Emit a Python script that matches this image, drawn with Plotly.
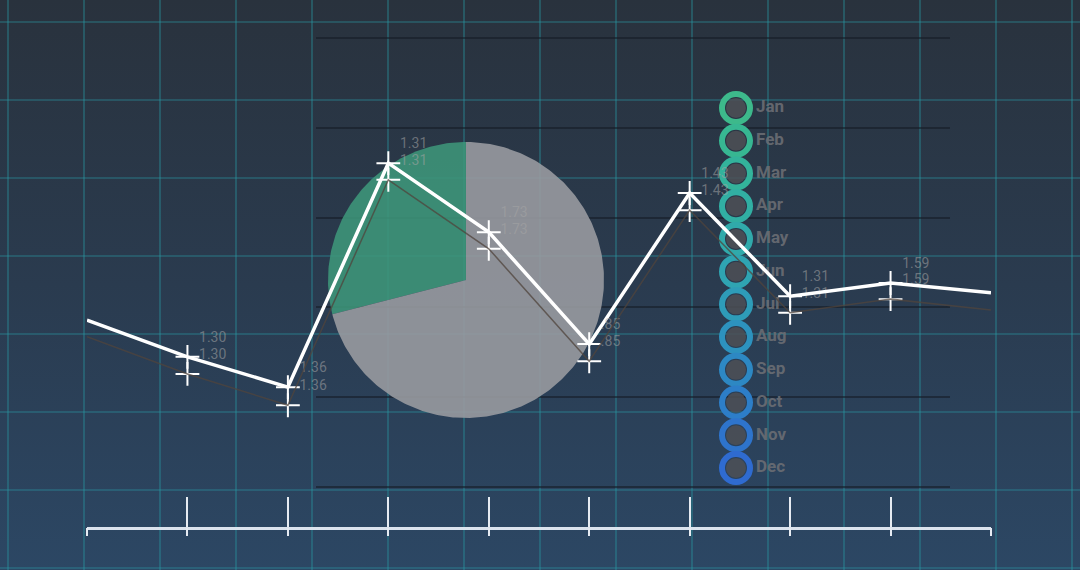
import math
import plotly.graph_objects as go

# ---------------- data ----------------
points = list(range(10))
main_values = [4.23, 3.48, 2.86, 7.44, 6.03, 3.74, 6.83, 4.72, 4.99, 4.79]
shadow_values = [3.89, 3.13, 2.49, 7.10, 5.69, 3.39, 6.48, 4.38, 4.66, 4.44]
point_labels = ["1.30", "1.36", "1.31", "1.73", ".85", "1.43", "1.31", "1.59"]
pie_labels = ["Green", "Gray"]
pie_shares = [29, 71]
months = ["Jan", "Feb", "Mar", "Apr", "May", "Jun",
          "Jul", "Aug", "Sep", "Oct", "Nov", "Dec"]

# ---------------- styles ----------------
W, H = 1080, 570
ring_colors = ["#3db98b", "#37b792", "#33b39b", "#31afa3", "#30aaab", "#2fa4b2",
               "#2e9cb8", "#2d92be", "#2d88c3", "#2d7ec8", "#2e74cc", "#2f6bd0"]
pie_colors = ["rgba(62,150,122,0.88)", "rgba(152,154,160,0.9)"]
label_color = "rgba(165,165,165,0.55)"

fig = go.Figure()

def px_dom(a, b, total):
    return [a / total, b / total]

# 1) background gradient (x/y, pixel axes)
fig.add_trace(go.Scatter(
    x=[0, W, W, 0, 0], y=[0, 0, H, H, 0], mode="lines", fill="toself",
    line=dict(width=0), hoverinfo="skip", showlegend=False,
    fillgradient=dict(type="vertical",
                      colorscale=[[0, "#2c4764"], [0.5, "#2a3b4f"], [1, "#29323d"]]),
    xaxis="x", yaxis="y"))

# 2) teal grid (x2/y2)
fig.add_trace(go.Scatter(x=[], y=[], xaxis="x2", yaxis="y2", showlegend=False))

# 3) dark horizontal guide lines (x3/y3)
fig.add_trace(go.Scatter(x=[], y=[], xaxis="x3", yaxis="y3", showlegend=False))

# 4) pie drawn from its shares on a square unit axis (x4/y4)
start = 90.0
for lab, share, col in zip(pie_labels, pie_shares, pie_colors):
    span = 360.0 * share / sum(pie_shares)
    n = max(8, int(span))
    xs, ys = [0.0], [0.0]
    for k in range(n + 1):
        a = math.radians(start + span * k / n)
        xs.append(math.cos(a))
        ys.append(math.sin(a))
    xs.append(0.0); ys.append(0.0)
    fig.add_trace(go.Scatter(x=xs, y=ys, mode="lines", fill="toself",
                             fillcolor=col, line=dict(width=0), name=lab,
                             hoverinfo="name", showlegend=False,
                             xaxis="x4", yaxis="y4"))
    start += span

# 5) month rings (x5/y5)
midx = list(range(len(months)))
fig.add_trace(go.Scatter(
    x=[0] * len(months), y=midx, mode="markers", xaxis="x5", yaxis="y5",
    marker=dict(symbol="circle", size=20, color="rgba(78,80,86,0.85)"),
    hoverinfo="skip", showlegend=False, cliponaxis=False))
fig.add_trace(go.Scatter(
    x=[0] * len(months), y=midx, mode="markers", xaxis="x5", yaxis="y5",
    marker=dict(symbol="circle-open", size=28, color=ring_colors,
                line=dict(width=6, color=ring_colors)),
    hoverinfo="skip", showlegend=False, cliponaxis=False))
fig.add_trace(go.Scatter(
    x=[1] * len(months), y=midx, mode="text", text=months,
    textposition="middle right", xaxis="x5", yaxis="y5",
    textfont=dict(family="Roboto", size=17, color="rgba(108,110,116,0.9)",
                  weight="bold"),
    hoverinfo="skip", showlegend=False, cliponaxis=False))

# 6) line chart (x6/y6), with overlay x7 for lower tick stubs
inner = points[1:-1]
fig.add_trace(go.Scatter(
    x=points, y=shadow_values, mode="lines", xaxis="x7", yaxis="y6",
    line=dict(color="rgba(80,68,60,0.75)", width=1.5),
    hoverinfo="skip", showlegend=False))
fig.add_trace(go.Scatter(
    x=inner, y=shadow_values[1:-1], mode="markers+text", xaxis="x6", yaxis="y6",
    text=point_labels, textposition="top right",
    textfont=dict(family="Roboto", size=14, color=label_color),
    marker=dict(symbol="cross-thin", size=17, line=dict(width=2, color="white")),
    hoverinfo="skip", showlegend=False, cliponaxis=False))
fig.add_trace(go.Scatter(
    x=points, y=main_values, mode="lines", xaxis="x6", yaxis="y6",
    line=dict(color="white", width=3.5), showlegend=False))
fig.add_trace(go.Scatter(
    x=inner, y=main_values[1:-1], mode="markers+text", xaxis="x6", yaxis="y6",
    text=point_labels, textposition="top right",
    textfont=dict(family="Roboto", size=14, color=label_color),
    marker=dict(symbol="cross-thin", size=17, line=dict(width=2, color="white")),
    hoverinfo="skip", showlegend=False, cliponaxis=False))

hidden = dict(showgrid=False, zeroline=False, showticklabels=False,
              showline=False, ticks="", fixedrange=True)

fig.update_layout(
    width=W, height=H,
    margin=dict(l=0, r=0, t=0, b=0),
    paper_bgcolor="#2a3a4e", plot_bgcolor="rgba(0,0,0,0)",
    showlegend=False,
    xaxis=dict(domain=[0, 1], range=[0, W], **hidden),
    yaxis=dict(domain=[0, 1], range=[H, 0], **hidden),
    xaxis2=dict(domain=[0, 1], range=[0, W], anchor="y2",
                **{**hidden, "showgrid": True}, tick0=8, dtick=76,
                gridcolor="rgba(40,150,160,0.38)", gridwidth=2),
    yaxis2=dict(domain=[0, 1], range=[H, 0], anchor="x2",
                **{**hidden, "showgrid": True}, tick0=22, dtick=78,
                gridcolor="rgba(40,150,160,0.34)", gridwidth=2),
    xaxis3=dict(domain=px_dom(316, 950, W), range=[0, 1], anchor="y3", **hidden),
    yaxis3=dict(domain=[(H - 496) / H, (H - 29) / H], range=[-0.1, 5.1],
                anchor="x3", **{**hidden, "showgrid": True}, tick0=0, dtick=1,
                gridcolor="rgba(22,28,38,0.6)", gridwidth=1.5),
    xaxis4=dict(domain=px_dom(328, 604, W), range=[-1, 1], anchor="y4", **hidden),
    yaxis4=dict(domain=[(H - 418) / H, (H - 142) / H], range=[-1, 1], anchor="x4",
                **hidden),
    xaxis5=dict(domain=px_dom(736, 756, W), range=[0, 1], anchor="y5", **hidden),
    yaxis5=dict(domain=[(H - 468) / H, (H - 108) / H], range=[11, 0], anchor="x5",
                **hidden),
    xaxis6=dict(domain=px_dom(87, 991, W), range=[0, 9], anchor="y6",
                showgrid=False, zeroline=False, showticklabels=False,
                tickvals=points, ticks="inside", ticklen=30, tickwidth=1.5,
                tickcolor="#e6ebf2", showline=True, linecolor="#dbe3ee",
                linewidth=2.5, fixedrange=True),
    xaxis7=dict(overlaying="x6", anchor="y6", range=[0, 9],
                showgrid=False, zeroline=False, showticklabels=False,
                tickvals=points, ticks="outside", ticklen=8, tickwidth=1.5,
                tickcolor="#e6ebf2", showline=False, fixedrange=True),
    yaxis6=dict(domain=[(H - 527) / H, (H - 38) / H], range=[0, 10], anchor="x6",
                **hidden),
)

fig.write_html("out.html",
               config={"displayModeBar": False},
               post_script="document.body.style.margin='0';"
                           "document.body.style.background='#2a3a4e';")
